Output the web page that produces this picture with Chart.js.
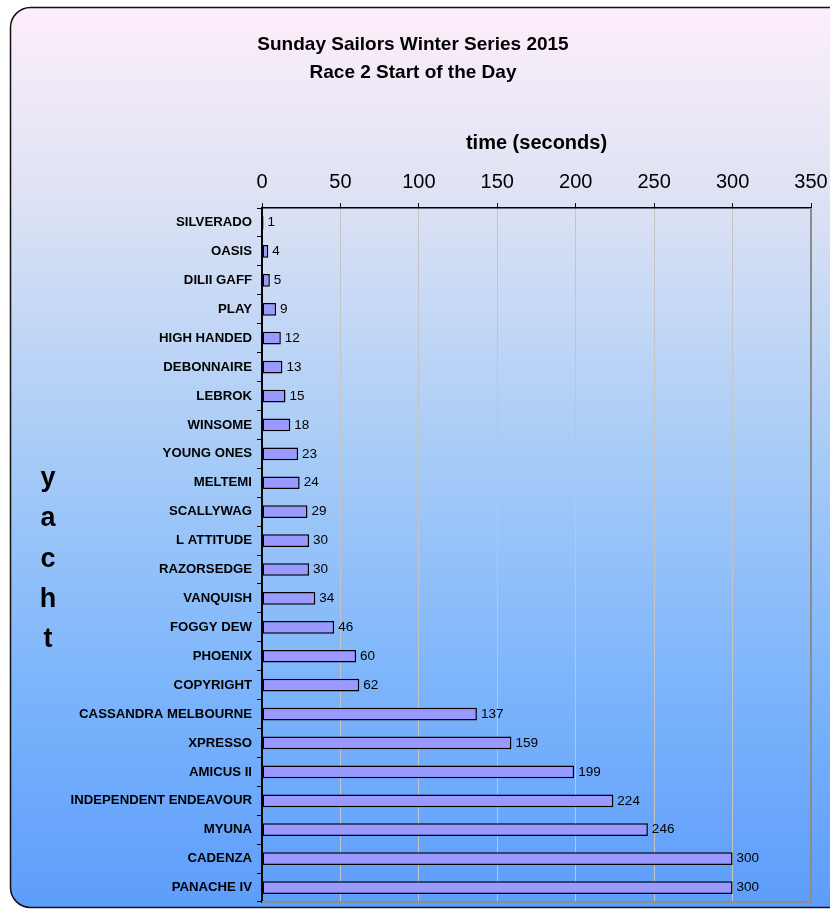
<!DOCTYPE html>
<html>
<head>
<meta charset="utf-8">
<script src="https://cdn.jsdelivr.net/npm/chart.js@4"></script>
<style>
  html, body { margin: 0; padding: 0; background: #ffffff; }
  #chart { display: block; }
</style>
</head>
<body>
<canvas id="chart" width="830" height="909"></canvas>
<script>
const titleLines = ['Sunday Sailors Winter Series 2015', 'Race 2 Start of the Day'];
const xTitle = 'time (seconds)';
const yTitle = 'yacht';
const yachts = [
  'SILVERADO', 'OASIS', 'DILII GAFF', 'PLAY', 'HIGH HANDED', 'DEBONNAIRE',
  'LEBROK', 'WINSOME', 'YOUNG ONES', 'MELTEMI', 'SCALLYWAG', 'L ATTITUDE',
  'RAZORSEDGE', 'VANQUISH', 'FOGGY DEW', 'PHOENIX', 'COPYRIGHT',
  'CASSANDRA MELBOURNE', 'XPRESSO', 'AMICUS II', 'INDEPENDENT ENDEAVOUR',
  'MYUNA', 'CADENZA', 'PANACHE IV'
];
const seconds = [1, 4, 5, 9, 12, 13, 15, 18, 23, 24, 29, 30, 30, 34, 46, 60, 62, 137, 159, 199, 224, 246, 300, 300];
const xMin = 0;
const xMax = 350;
const xStep = 50;

const FONT = '"Liberation Sans", Arial, sans-serif';

// rounded frame with the pink-to-blue gradient
const framePlugin = {
  id: 'frame',
  beforeDraw(chart) {
    const ctx = chart.ctx;
    const x = 10.5, y = 7.5, w = chart.width + 20, h = chart.height - 9, r = 20;
    const grad = ctx.createLinearGradient(0, y, 0, y + h);
    grad.addColorStop(0, '#fdeefa');
    grad.addColorStop(0.2, '#dfe3f4');
    grad.addColorStop(0.5, '#a6cbf7');
    grad.addColorStop(0.75, '#7db5fb');
    grad.addColorStop(1, '#5d9dfb');
    ctx.save();
    ctx.beginPath();
    ctx.moveTo(x + r, y);
    ctx.lineTo(x + w, y);
    ctx.lineTo(x + w, y + h);
    ctx.lineTo(x + r, y + h);
    ctx.arcTo(x, y + h, x, y + h - r, r);
    ctx.lineTo(x, y + r);
    ctx.arcTo(x, y, x + r, y, r);
    ctx.closePath();
    ctx.fillStyle = grad;
    ctx.fill();
    ctx.lineWidth = 1.5;
    ctx.strokeStyle = '#111111';
    ctx.stroke();
    ctx.restore();
  },
  beforeDatasetsDraw(chart) {
    const ctx = chart.ctx;
    const a = chart.chartArea;
    ctx.save();
    ctx.strokeStyle = '#8c8c8c';
    ctx.lineWidth = 2;
    ctx.beginPath();
    ctx.moveTo(a.left, a.bottom);
    ctx.lineTo(a.right, a.bottom);
    ctx.lineTo(a.right, a.top);
    ctx.stroke();
    ctx.restore();
  },
  afterDatasetsDraw(chart) {
    const ctx = chart.ctx;
    const meta = chart.getDatasetMeta(0);
    ctx.save();
    ctx.font = '13.5px ' + FONT;
    ctx.fillStyle = '#000000';
    ctx.textAlign = 'left';
    ctx.textBaseline = 'middle';
    meta.data.forEach((bar, i) => {
      ctx.fillText(String(seconds[i]), bar.x + 4, bar.y);
    });
    // stacked y axis title
    ctx.font = 'bold 27px ' + FONT;
    ctx.textAlign = 'center';
    ctx.textBaseline = 'alphabetic';
    const letters = yTitle.split('');
    const mid = (chart.chartArea.top + chart.chartArea.bottom) / 2;
    const step = 40.3;
    letters.forEach((ch, i) => {
      ctx.fillText(ch, 48, mid + 11.5 + (i - (letters.length - 1) / 2) * step);
    });
    ctx.restore();
  }
};

new Chart(document.getElementById('chart'), {
  type: 'bar',
  data: {
    labels: yachts,
    datasets: [{
      data: seconds,
      backgroundColor: '#9999ff',
      borderColor: '#000000',
      borderWidth: 1.5,
      borderSkipped: false,
      categoryPercentage: 1,
      barPercentage: 0.44
    }]
  },
  options: {
    indexAxis: 'y',
    responsive: false,
    animation: false,
    layout: { padding: { left: 15, right: 19, top: 0, bottom: 7 } },
    plugins: {
      legend: { display: false },
      tooltip: { enabled: false },
      title: {
        display: true,
        text: titleLines,
        color: '#000000',
        font: { family: FONT, size: 19, weight: 'bold', lineHeight: 1.46 },
        padding: { top: 31.2, bottom: 23.4 }
      }
    },
    scales: {
      x: {
        position: 'top',
        min: xMin,
        max: xMax,
        afterFit(scale) {
          scale.height = 98;
          scale.paddingLeft = 0;
          scale.paddingRight = 0;
        },
        ticks: {
          stepSize: xStep,
          color: '#000000',
          font: { family: FONT, size: 20 },
          padding: 9
        },
        grid: {
          color: (c) => (c.tick && c.tick.value === xMax ? '#8c8c8c' : '#c4c4c4'),
          lineWidth: 1,
          tickColor: '#000000',
          tickLength: 5
        },
        border: { color: '#000000', width: 1.5 },
        title: {
          display: true,
          text: xTitle,
          color: '#000000',
          font: { family: FONT, size: 20, weight: 'bold' },
          padding: { top: 21, bottom: 0 }
        }
      },
      y: {
        afterFit(scale) {
          scale.width = 247;
          scale.paddingTop = 0;
          scale.paddingBottom = 0;
        },
        ticks: {
          color: '#000000',
          font: { family: FONT, size: 13.2, weight: 'bold' },
          padding: 5,
          autoSkip: false
        },
        grid: {
          drawOnChartArea: false,
          offset: true,
          tickColor: '#000000',
          tickLength: 5
        },
        border: { color: '#000000', width: 2 }
      }
    }
  },
  plugins: [framePlugin]
});
</script>
</body>
</html>
